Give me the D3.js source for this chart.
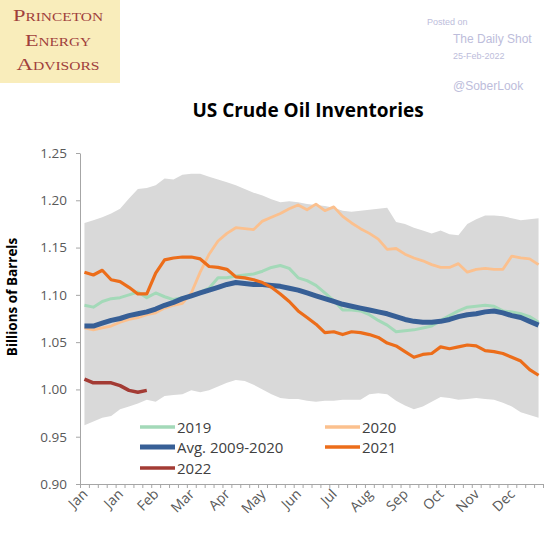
<!DOCTYPE html>
<html>
<head>
<meta charset="utf-8">
<script src="https://cdn.jsdelivr.net/npm/d3@7"></script>
<style>
  body { margin: 0; background: #fff; }
  svg { display: block; font-family: "Open Sans", sans-serif; }
  .axis path, .axis line { stroke: #a6a6a6; }
  .axis text { fill: #595959; font-size: 13.5px; font-family: "Open Sans", sans-serif; }
</style>
</head>
<body>
<div id="chart"></div>
<script>
// weekly inventories, billions of barrels (52 weeks)
const monthLabels = ["Jan", "Jan", "Feb", "Mar", "Apr", "May", "Jun", "Jul", "Aug", "Sep", "Oct", "Nov", "Dec"];
const yTicks = [0.90, 0.95, 1.00, 1.05, 1.10, 1.15, 1.20, 1.25];

const rangeHigh = [1.176, 1.179, 1.182, 1.186, 1.191, 1.202, 1.212, 1.213, 1.216, 1.223, 1.222, 1.227, 1.228,
  1.228, 1.225, 1.222, 1.219, 1.216, 1.212, 1.208, 1.205, 1.201, 1.198, 1.199, 1.198, 1.196, 1.195, 1.194,
  1.192, 1.189, 1.188, 1.189, 1.190, 1.191, 1.192, 1.177, 1.175, 1.171, 1.168, 1.165, 1.168, 1.164, 1.163,
  1.175, 1.180, 1.184, 1.184, 1.183, 1.181, 1.179, 1.180, 1.181];
const rangeLow = [0.962, 0.966, 0.970, 0.972, 0.979, 0.982, 0.985, 0.989, 0.987, 0.993, 0.994, 0.995, 0.999,
  0.997, 0.999, 1.003, 1.007, 1.010, 1.009, 1.005, 1.000, 0.995, 0.991, 0.990, 0.990, 0.988, 0.987, 0.988,
  0.988, 0.989, 0.989, 0.989, 0.995, 0.996, 0.995, 0.988, 0.983, 0.979, 0.982, 0.987, 0.992, 0.991, 0.989,
  0.990, 0.991, 0.990, 0.989, 0.986, 0.982, 0.976, 0.973, 0.970];
const avg0920 = [1.067, 1.067, 1.070, 1.073, 1.075, 1.078, 1.080, 1.082, 1.085, 1.089, 1.092, 1.096, 1.099,
  1.102, 1.105, 1.108, 1.111, 1.113, 1.112, 1.111, 1.111, 1.110, 1.109, 1.107, 1.105, 1.102, 1.099, 1.096,
  1.093, 1.090, 1.088, 1.086, 1.084, 1.082, 1.080, 1.077, 1.074, 1.072, 1.071, 1.071, 1.072, 1.074, 1.077,
  1.079, 1.080, 1.082, 1.083, 1.081, 1.078, 1.076, 1.072, 1.068];
const y2019 = [1.089, 1.087, 1.093, 1.096, 1.097, 1.100, 1.103, 1.097, 1.102, 1.098, 1.095, 1.097, 1.099,
  1.103, 1.107, 1.118, 1.118, 1.120, 1.121, 1.122, 1.125, 1.129, 1.131, 1.128, 1.118, 1.115, 1.110, 1.102,
  1.094, 1.084, 1.084, 1.083, 1.079, 1.073, 1.068, 1.061, 1.062, 1.063, 1.065, 1.067, 1.073, 1.078, 1.083,
  1.087, 1.088, 1.089, 1.088, 1.083, 1.082, 1.080, 1.077, 1.071];
const y2020 = [1.065, 1.063, 1.065, 1.067, 1.071, 1.074, 1.076, 1.079, 1.081, 1.086, 1.089, 1.091, 1.102,
  1.124, 1.143, 1.157, 1.165, 1.171, 1.170, 1.169, 1.178, 1.182, 1.186, 1.191, 1.195, 1.190, 1.196, 1.189,
  1.193, 1.183, 1.176, 1.170, 1.165, 1.159, 1.148, 1.149, 1.143, 1.139, 1.136, 1.132, 1.129, 1.129, 1.133,
  1.124, 1.127, 1.128, 1.127, 1.127, 1.141, 1.139, 1.138, 1.132];
const y2021 = [1.124, 1.121, 1.126, 1.116, 1.114, 1.108, 1.101, 1.101, 1.123, 1.137, 1.139, 1.140, 1.140,
  1.138, 1.130, 1.129, 1.127, 1.119, 1.118, 1.116, 1.113, 1.108, 1.101, 1.093, 1.083, 1.076, 1.069, 1.060,
  1.061, 1.058, 1.061, 1.060, 1.058, 1.055, 1.049, 1.046, 1.040, 1.034, 1.037, 1.038, 1.045, 1.043, 1.045,
  1.047, 1.046, 1.041, 1.040, 1.038, 1.034, 1.030, 1.021, 1.015];
const y2022 = [1.011, 1.007, 1.007, 1.007, 1.004, 0.999, 0.997, 0.999];

const width = 560, height = 544;
const margin = { left: 80, right: 17, top: 153, bottom: 60 };

const svg = d3.select('#chart').append('svg')
    .attr('width', width)
    .attr('height', height);

// Logo box
svg.append('rect')
    .attr('x', 0).attr('y', 0)
    .attr('width', 120).attr('height', 83)
    .attr('fill', '#f9edbb');
const logo = svg.append('g')
    .attr('font-family', '"Liberation Serif", serif')
    .attr('fill', '#a0403c')
    .attr('text-anchor', 'middle')
    .style('font-variant', 'small-caps');
[['Princeton', 21, 90], ['Energy', 46, 66], ['Advisors', 70, 83]].forEach(([t, yy, w]) => {
    logo.append('text')
        .attr('x', 58).attr('y', yy)
        .attr('font-size', 17.5)
        .attr('textLength', w)
        .attr('lengthAdjust', 'spacingAndGlyphs')
        .text(t);
});

// Posted-on credits
const credit = svg.append('g').attr('fill', '#bdbddb').attr('font-family', '"Liberation Sans", Arial, sans-serif');
credit.append('text').attr('x', 427).attr('y', 25).attr('font-size', 9).text('Posted on');
credit.append('text').attr('x', 453).attr('y', 43).attr('font-size', 12).text('The Daily Shot');
credit.append('text').attr('x', 453).attr('y', 59).attr('font-size', 9).text('25-Feb-2022');
credit.append('text').attr('x', 453).attr('y', 90).attr('font-size', 12).text('@SoberLook');

// Title
svg.append('text')
    .attr('x', 308).attr('y', 117)
    .attr('text-anchor', 'middle')
    .attr('font-size', 19)
    .attr('font-weight', 'bold')
    .attr('fill', '#000')
    .text('US Crude Oil Inventories');

const x = d3.scaleLinear().domain([0, 52]).range([margin.left, width - margin.right]);
const y = d3.scaleLinear().domain([0.90, 1.25]).range([height - margin.bottom, margin.top]);
const px = i => x(i + 0.5);

// Min/max range band
const area = d3.area()
    .x((d, i) => px(i))
    .y0((d, i) => y(rangeLow[i]))
    .y1(d => y(d));
svg.append('path')
    .datum(rangeHigh)
    .attr('d', area)
    .attr('fill', '#d9d9d9');

// Axes
svg.append('g')
    .attr('class', 'axis')
    .attr('transform', `translate(${margin.left},0)`)
    .call(d3.axisLeft(y).tickValues(yTicks).tickFormat(d3.format('.2f')).tickSize(4).tickPadding(9).tickSizeOuter(0));

svg.append('g')
    .attr('class', 'axis')
    .attr('transform', `translate(0,${height - margin.bottom})`)
    .call(d3.axisBottom(x).tickValues(d3.range(53)).tickFormat('').tickSize(4).tickSizeOuter(0));

svg.append('g')
    .selectAll('text')
    .data(monthLabels)
    .join('text')
    .attr('transform', (d, k) => `translate(${px(k * 4) + 4},${height - margin.bottom + 11}) rotate(-45)`)
    .attr('text-anchor', 'end')
    .attr('fill', '#595959')
    .attr('font-size', 14)
    .text(d => d);

// Y title
svg.append('text')
    .attr('transform', 'translate(17,297) rotate(-90)')
    .attr('text-anchor', 'middle')
    .attr('font-size', 13.5)
    .attr('font-weight', 'bold')
    .attr('fill', '#000')
    .text('Billions of Barrels');

// Series
const series = [
    { name: '2019', values: y2019, color: '#a3d9b8', width: 3 },
    { name: '2020', values: y2020, color: '#fbc08e', width: 2.8 },
    { name: 'Avg. 2009-2020', values: avg0920, color: '#375f96', width: 5 },
    { name: '2021', values: y2021, color: '#ec6d1a', width: 3.2 },
    { name: '2022', values: y2022, color: '#a33b34', width: 3.5 }
];

const line = d3.line().x((d, i) => px(i)).y(d => y(d));
svg.append('g')
    .selectAll('path')
    .data(series)
    .join('path')
    .attr('d', d => line(d.values))
    .attr('fill', 'none')
    .attr('stroke', d => d.color)
    .attr('stroke-width', d => d.width)
    .attr('stroke-linejoin', 'round');

// Legend (two columns)
const legendPos = {
    '2019': [140, 427], 'Avg. 2009-2020': [140, 447], '2022': [140, 468],
    '2020': [325, 427], '2021': [325, 447]
};
const legend = svg.append('g')
    .selectAll('g')
    .data(series)
    .join('g')
    .attr('transform', d => `translate(${legendPos[d.name][0]},${legendPos[d.name][1]})`);
legend.append('line')
    .attr('x1', 0).attr('x2', 35)
    .attr('stroke', d => d.color)
    .attr('stroke-width', d => Math.max(d.width, 3.5));
legend.append('text')
    .attr('x', 37).attr('y', 5.5)
    .attr('font-size', 15)
    .attr('fill', '#404040')
    .text(d => d.name);
</script>
</body>
</html>
